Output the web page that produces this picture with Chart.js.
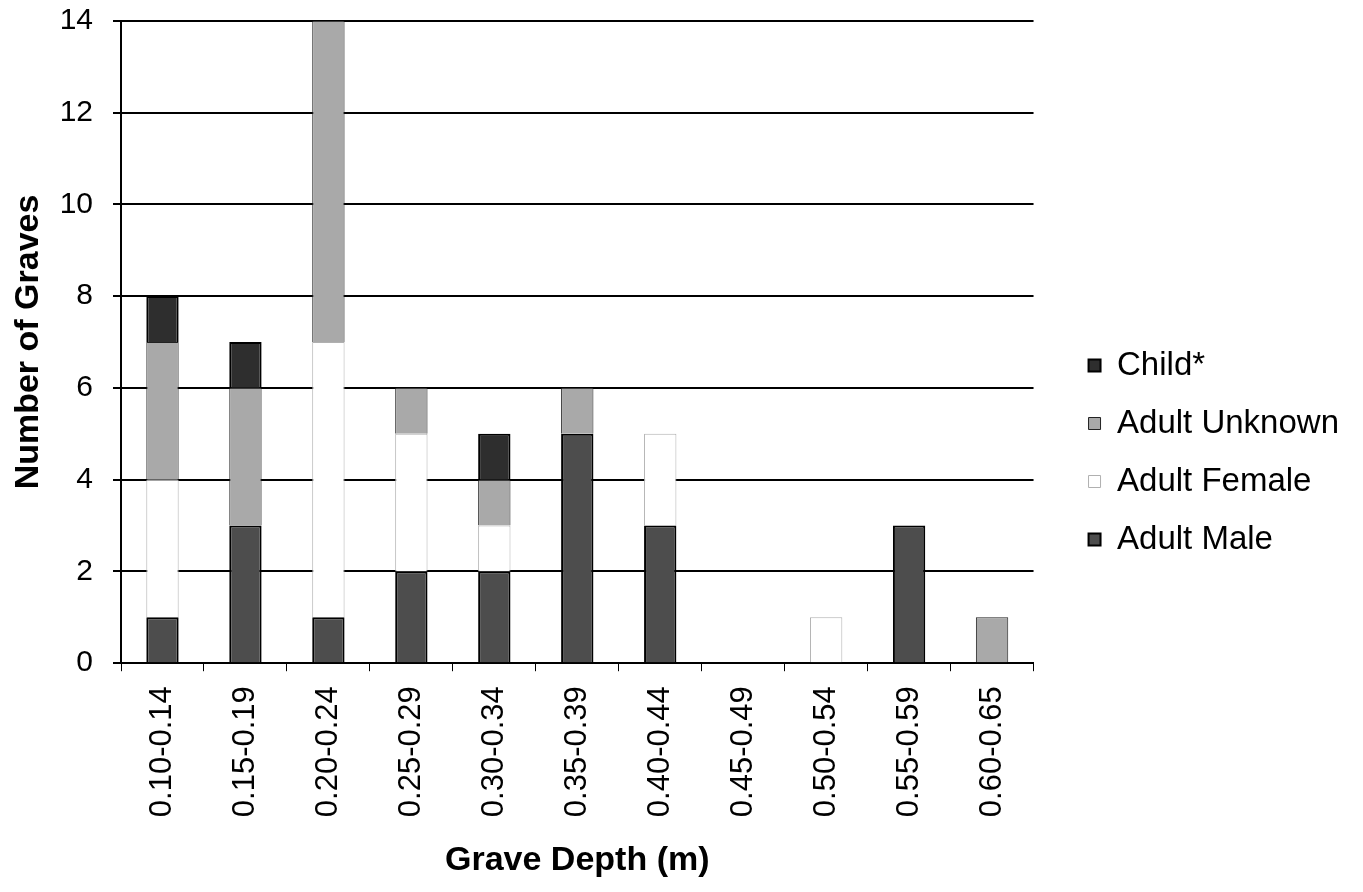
<!DOCTYPE html>
<html>
<head>
<meta charset="utf-8">
<script src="https://cdn.jsdelivr.net/npm/chart.js@4.4.1/dist/chart.umd.min.js"></script>
<style>
  html, body { margin: 0; padding: 0; background: #fff; }
  #wrap { width: 1363px; height: 892px; }
</style>
</head>
<body>
<div id="wrap"><canvas id="c" width="1363" height="892"></canvas></div>
<script>
const categories = ["0.10-0.14","0.15-0.19","0.20-0.24","0.25-0.29","0.30-0.34","0.35-0.39","0.40-0.44","0.45-0.49","0.50-0.54","0.55-0.59","0.60-0.65"];
const adultMale    = [1, 3, 1, 2, 2, 5, 3, 0, 0, 3, 0];
const adultFemale  = [3, 0, 6, 3, 1, 0, 2, 0, 1, 0, 0];
const adultUnknown = [3, 3, 7, 1, 1, 1, 0, 0, 0, 0, 1];
const child        = [1, 1, 0, 0, 1, 0, 0, 0, 0, 0, 0];
const yTicks = [0, 2, 4, 6, 8, 10, 12, 14];

const FONT = "'Liberation Sans', Arial, sans-serif";

new Chart(document.getElementById('c'), {
  type: 'bar',
  data: {
    labels: categories,
    datasets: [
      { label: 'Adult Male', data: adultMale, backgroundColor: '#4d4d4d', borderColor: '#000', borderWidth: 2 },
      { label: 'Adult Female', data: adultFemale, backgroundColor: '#ffffff', borderColor: '#b0b0b0', borderWidth: 1 },
      { label: 'Adult Unknown', data: adultUnknown, backgroundColor: '#a9a9a9', borderColor: '#222', borderWidth: 1 },
      { label: 'Child*', data: child, backgroundColor: '#2e2e2e', borderColor: '#000', borderWidth: 2 }
    ]
  },
  options: {
    responsive: false,
    animation: false,
    devicePixelRatio: 1,
    layout: { padding: { top: 0, right: 14, bottom: 11, left: 0 } },
    datasets: { bar: { barPercentage: 0.39, categoryPercentage: 1.0 } },
    plugins: {
      legend: {
        position: 'right',
        reverse: true,
        title: { display: true, text: ' ', font: { size: 15 }, padding: 3 },
        labels: {
          color: '#000',
          font: { family: FONT, size: 33 },
          boxWidth: 12,
          boxHeight: 12,
          padding: 25
        }
      },
      tooltip: { enabled: false }
    },
    scales: {
      x: {
        stacked: true,
        grid: { display: true, drawOnChartArea: false, drawTicks: true, tickLength: 8, color: '#000', lineWidth: 1, offset: true },
        border: { display: true, color: '#000', width: 2 },
        ticks: { color: '#000', font: { family: FONT, size: 31 }, minRotation: 90, maxRotation: 90, padding: 15, autoSkip: false },
        title: { display: true, text: 'Grave Depth (m)', color: '#000', font: { family: FONT, size: 34, weight: 'bold' }, padding: { top: 8, bottom: 0 } }
      },
      y: {
        stacked: true,
        min: 0,
        max: 14,
        afterBuildTicks: (s) => { s.ticks = yTicks.map(v => ({ value: v })); },
        afterFit: (s) => { s.width = 121; },
        grid: { color: '#000', lineWidth: 2, tickLength: 8 },
        border: { display: true, color: '#000', width: 2 },
        ticks: { color: '#000', font: { family: FONT, size: 30, lineHeight: 0.05 }, padding: 20 },
        title: { display: true, text: 'Number of Graves', color: '#000', font: { family: FONT, size: 34, weight: 'bold' }, padding: { top: 8, bottom: 0 } }
      },
      gap: {
        position: 'right',
        display: false,
        afterFit: (s) => { s.width = 30; }
      }
    }
  }
});
</script>
</body>
</html>
